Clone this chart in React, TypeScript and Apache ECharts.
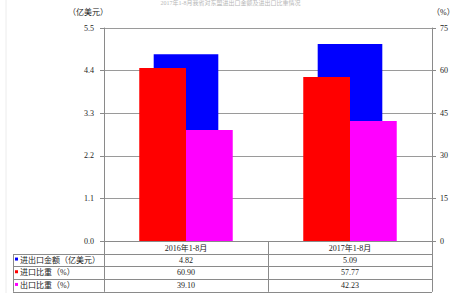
import React, { useEffect, useRef } from "react";
import * as echarts from "echarts";

const categories = ["2016年1-8月", "2017年1-8月"];
const tradeAmount = [4.82, 5.09];
const importShare = [60.9, 57.77];
const exportShare = [39.1, 42.23];
const rowLabels = ["进出口金额（亿美元）", "进口比重（%）", "出口比重（%）"];
const rowColors = ["#0000ff", "#ff0000", "#ff00ff"];
const leftTicks = { min: 0, max: 5.5, interval: 1.1 };
const rightTicks = { min: 0, max: 75, interval: 15 };
const titleText = "2017年1-8月我省对东盟进出口金额及进出口比重情况";

const W = 461;
const H = 293;
const GL = 104;
const GR = 432;
const GT = 28;
const GB = 241;
const ROW_H = 12.7;
const FONT = "'Liberation Serif', 'Noto Sans CJK SC', serif";

export default function App() {
  const ref = useRef<HTMLDivElement>(null);
  useEffect(() => {
    if (!ref.current) return;
    const chart = echarts.init(ref.current, null, { renderer: "svg" });
    const colW = (GR - GL) / categories.length;
    const rows = [tradeAmount, importShare, exportShare];
    const fmt = (v: number) => v.toFixed(2);
    const lineStyle = { stroke: "#8a8a8a", lineWidth: 1 };
    const graphics: any[] = [];
    graphics.push({
      type: "text",
      left: "center",
      top: 0,
      style: { text: titleText, font: `6px ${FONT}`, fill: "#b8b8b8" },
    });
    graphics.push({ type: "line", shape: { x1: 6, y1: 0, x2: 6, y2: H }, style: { stroke: "#ececec", lineWidth: 1 } });
    const tableBottom = GB + ROW_H * 4;
    for (let r = 1; r <= 4; r++) {
      const y = Math.round(GB + ROW_H * r) + 0.5;
      graphics.push({ type: "line", shape: { x1: 13, y1: y, x2: GR, y2: y }, style: lineStyle });
    }
    graphics.push({ type: "line", shape: { x1: 13.5, y1: Math.round(GB + ROW_H) + 0.5, x2: 13.5, y2: tableBottom }, style: lineStyle });
    for (let c = 0; c <= categories.length; c++) {
      const x = Math.round(GL + colW * c) + 0.5;
      graphics.push({ type: "line", shape: { x1: x, y1: GB, x2: x, y2: tableBottom }, style: lineStyle });
    }
    rowLabels.forEach((lab, r) => {
      const cy = GB + ROW_H * (r + 1) + ROW_H / 2;
      graphics.push({ type: "rect", shape: { x: 15, y: cy - 2.5, width: 3, height: 3 }, style: { fill: rowColors[r] } });
      graphics.push({
        type: "text",
        x: 20,
        y: cy,
        style: { text: lab, font: `8px ${FONT}`, fill: "#222", verticalAlign: "middle", align: "left" },
      });
      rows[r].forEach((v, c) => {
        graphics.push({
          type: "text",
          x: GL + colW * (c + 0.5),
          y: cy,
          style: { text: fmt(v), font: `8px ${FONT}`, fill: "#222", verticalAlign: "middle", align: "center" },
        });
      });
    });

    const option: any = {
      animation: false,
      backgroundColor: "#ffffff",
      grid: { left: GL, right: W - GR, top: GT, bottom: H - GB, containLabel: false },
      xAxis: [
        {
          type: "category",
          data: categories,
          axisLine: { show: true, lineStyle: { color: "#8a8a8a" } },
          axisTick: { show: false },
          axisLabel: { color: "#222", fontSize: 8, fontFamily: FONT, margin: 3 },
        },
        { type: "category", data: categories, show: false },
      ],
      yAxis: [
        {
          type: "value",
          name: "（亿美元）",
          nameLocation: "end",
          nameGap: 12,
          nameTextStyle: { color: "#222", fontSize: 8, fontFamily: FONT, align: "right", padding: [0, -4, 0, 0] },
          min: leftTicks.min,
          max: leftTicks.max,
          interval: leftTicks.interval,
          axisLine: { show: true, lineStyle: { color: "#8a8a8a" } },
          axisTick: { show: true, length: 4, lineStyle: { color: "#8a8a8a" } },
          axisLabel: { color: "#222", fontSize: 8, fontFamily: FONT, margin: 10, formatter: (v: number) => v.toFixed(1) },
          splitLine: { show: true, lineStyle: { color: "#9a9a9a" } },
        },
        {
          type: "value",
          name: "（%）",
          nameLocation: "end",
          nameGap: 12,
          nameTextStyle: { color: "#222", fontSize: 8, fontFamily: FONT, align: "left", padding: [0, 0, 0, 0] },
          min: rightTicks.min,
          max: rightTicks.max,
          interval: rightTicks.interval,
          position: "right",
          axisLine: { show: true, lineStyle: { color: "#8a8a8a" } },
          axisTick: { show: true, length: 4, lineStyle: { color: "#8a8a8a" } },
          axisLabel: { color: "#222", fontSize: 8, fontFamily: FONT, margin: 8 },
          splitLine: { show: false },
        },
      ],
      series: [
        {
          type: "bar",
          name: "进出口金额",
          xAxisIndex: 1,
          yAxisIndex: 0,
          data: tradeAmount,
          barWidth: "39.4%",
          itemStyle: { color: "#0000ff" },
        },
        {
          type: "bar",
          name: "进口比重",
          xAxisIndex: 0,
          yAxisIndex: 1,
          data: importShare,
          barWidth: "28.5%",
          barGap: "0%",
          itemStyle: { color: "#ff0000" },
        },
        {
          type: "bar",
          name: "出口比重",
          xAxisIndex: 0,
          yAxisIndex: 1,
          data: exportShare,
          barWidth: "28.5%",
          barGap: "0%",
          itemStyle: { color: "#ff00ff" },
        },
      ],
      graphic: graphics,
    };
    chart.setOption(option);
    return () => chart.dispose();
  }, []);
  return <div ref={ref} style={{ position: "fixed", left: 0, top: 0, width: W, height: H }} />;
}
